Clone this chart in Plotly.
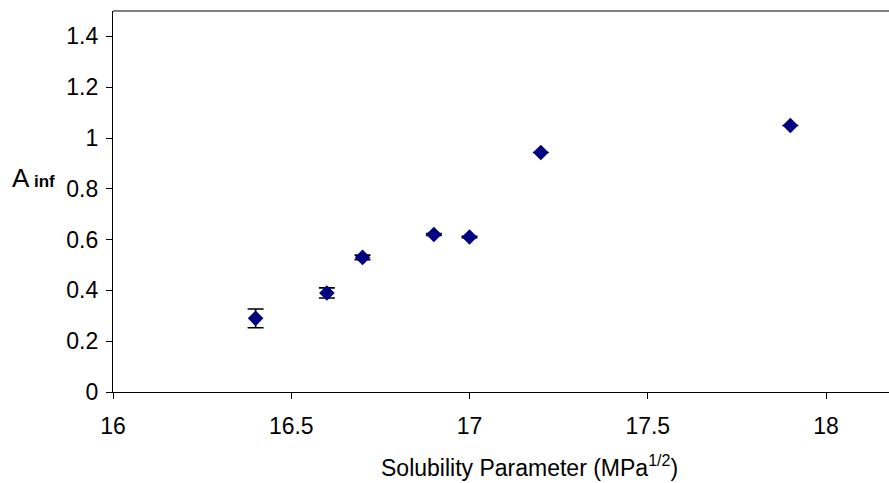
import plotly.graph_objects as go

# Data
solubility = [16.4, 16.6, 16.7, 16.9, 17.0, 17.2, 17.9]
a_inf = [0.29, 0.39, 0.53, 0.62, 0.61, 0.943, 1.049]
a_err = [0.037, 0.02, 0.009, 0.004, 0.003, 0.0, 0.0]

x_ticks = [16, 16.5, 17, 17.5, 18]
y_ticks = [0, 0.2, 0.4, 0.6, 0.8, 1, 1.2, 1.4]

FONT = "Liberation Sans"
W, H = 889, 483
L, R, T, B = 113, 0, 11, 91
PW, PH = W - L - R, H - T - B
TICKFONT = dict(family=FONT, size=23, color="black")

fig = go.Figure()
fig.add_trace(go.Scatter(
    x=solubility, y=a_inf, mode="markers",
    marker=dict(symbol="diamond", size=12, color="#000080", line=dict(width=0)),
    error_y=dict(type="data", array=a_err, visible=True, color="black",
                 thickness=1.6, width=8),
    showlegend=False,
))

fig.update_layout(
    width=W, height=H,
    margin=dict(l=L, r=R, t=T, b=B, pad=0),
    paper_bgcolor="white", plot_bgcolor="white",
    font=dict(family=FONT, size=23, color="black"),
    xaxis=dict(range=[16, 16 + PW / 356.5], tickvals=x_ticks,
               ticktext=[f"{v:g}" for v in x_ticks], tickfont=TICKFONT,
               showgrid=False, zeroline=False, showline=True, linecolor="black",
               linewidth=1.2, ticks="outside", ticklen=6, tickcolor="black",
               tickwidth=1, ticklabelstandoff=7),
    yaxis=dict(range=[0, 1.5], tickvals=y_ticks,
               ticktext=[f"{v:g}" for v in y_ticks], tickfont=TICKFONT,
               showgrid=False, zeroline=False, showline=True, linecolor="black",
               linewidth=1.2, ticks="outside", ticklen=6, tickcolor="black",
               tickwidth=1, ticklabelstandoff=3),
)

fig.add_shape(type="line", xref="paper", yref="paper", x0=0, x1=1, y0=1, y1=1,
              line=dict(color="#808080", width=2))

fig.add_annotation(xref="paper", yref="paper", x=(529 - L) / PW, y=-(466 - 392) / PH,
                   xanchor="center", yanchor="middle", showarrow=False,
                   text="Solubility Parameter (MPa<sup>1/2</sup>)",
                   font=dict(family=FONT, size=23, color="black"))

fig.add_annotation(xref="paper", yref="paper", x=(10 - L) / PW,
                   y=(392 - 178) / PH,
                   xanchor="left", yanchor="middle", showarrow=False,
                   text="A", font=dict(family=FONT, size=26, color="black"))
fig.add_annotation(xref="paper", yref="paper", x=(32 - L) / PW,
                   y=(392 - 181) / PH,
                   xanchor="left", yanchor="middle", showarrow=False,
                   text="<b>inf</b>", font=dict(family=FONT, size=17, color="black"))

fig.write_html("out.html")
